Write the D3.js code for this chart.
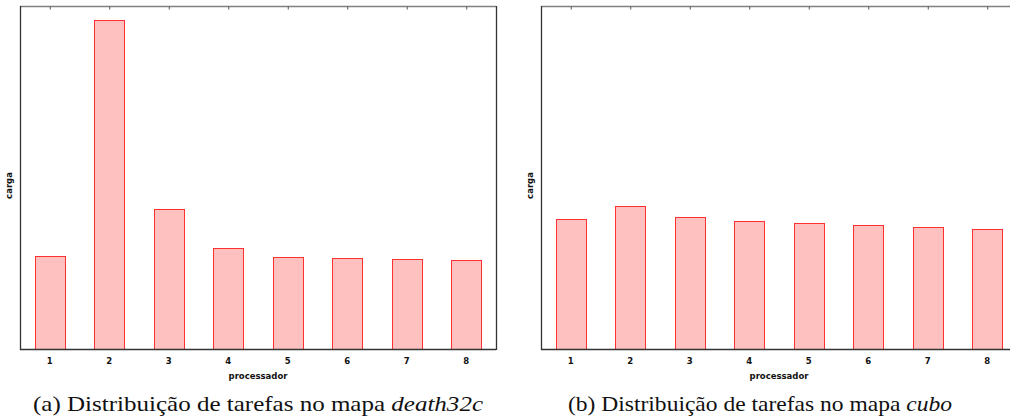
<!DOCTYPE html>
<html>
<head>
<meta charset="utf-8">
<script src="https://cdn.jsdelivr.net/npm/d3@7"></script>
<style>
  html, body { margin: 0; padding: 0; background: #fff; overflow: hidden; }
  svg { display: block; }
</style>
</head>
<body>
<svg id="chart" width="1010" height="420"></svg>
<script>
// ---- data ----
const categories = ["1", "2", "3", "4", "5", "6", "7", "8"];
const loadDeath32c = [930, 3290, 1397, 1013, 923, 910, 900, 890];
const loadCubo = [1297, 1427, 1323, 1283, 1257, 1243, 1217, 1197];
const yMax = 3430;
const xTitle = "processador";
const yTitle = "carga";
const captionA = ["(a) Distribuição de tarefas no mapa ", "death32c"];
const captionB = ["(b) Distribuição de tarefas no mapa ", "cubo"];

const svg = d3.select("#chart");
const svgWidth = 1010;

function panel(x0, values) {
  const top = 6, bottom = 349, width = 476;
  const x = d3.scaleBand().domain(categories).range([x0, x0 + width]).paddingInner(0).paddingOuter(0);
  const y = d3.scaleLinear().domain([0, yMax]).range([bottom, top]);
  const g = svg.append("g");
  const bw = x.bandwidth() * 0.505;

  // bars
  g.selectAll("rect.bar").data(values).enter().append("rect")
    .attr("class", "bar")
    .attr("x", (d, i) => Math.round(x(categories[i]) + x.bandwidth() / 2 - bw / 2) + 0.5)
    .attr("y", d => Math.round(y(d)) + 0.5)
    .attr("width", Math.round(bw))
    .attr("height", d => bottom - Math.round(y(d)))
    .attr("fill", "#ffc0c0")
    .attr("stroke", "#ff3030")
    .attr("stroke-width", 1);

  // top axis (gray frame + small ticks)
  const topAxis = d3.axisBottom(x).tickSize(3).tickFormat("");
  const ta = g.append("g").attr("transform", `translate(0,${top + 0.5})`).call(topAxis);
  ta.select(".domain").attr("stroke", "#808080").attr("stroke-width", 1.5).attr("d", `M${x0},0H${x0 + width}`);
  ta.selectAll(".tick line").attr("stroke", "#555").attr("transform", "translate(0.5,0)");

  // bottom axis
  const botAxis = d3.axisBottom(x).tickSize(0).tickPadding(8);
  const ba = g.append("g").attr("transform", `translate(0,${bottom + 0.5})`).call(botAxis);
  ba.select(".domain").attr("stroke", "#333").attr("stroke-width", 1.3).attr("d", `M${x0},0H${x0 + width}`);
  ba.selectAll(".tick text")
    .attr("font-family", "DejaVu Sans, sans-serif")
    .attr("font-weight", "bold")
    .attr("font-size", 8.5)
    .attr("fill", "#111");

  // left frame
  g.append("line").attr("x1", x0 + 0.5).attr("x2", x0 + 0.5).attr("y1", top).attr("y2", bottom + 1)
    .attr("stroke", "#333").attr("stroke-width", 1.3);
  // right frame (only if inside the picture)
  if (x0 + width < svgWidth) {
    g.append("line").attr("x1", x0 + width + 0.5).attr("x2", x0 + width + 0.5).attr("y1", top).attr("y2", bottom + 1)
      .attr("stroke", "#333").attr("stroke-width", 1.3);
  }

  // axis titles
  g.append("text")
    .attr("x", x0 + width / 2).attr("y", 379)
    .attr("text-anchor", "middle")
    .attr("font-family", "DejaVu Sans, sans-serif")
    .attr("font-weight", "bold").attr("font-size", 8.5).attr("fill", "#111")
    .text(xTitle);
  g.append("text")
    .attr("transform", `translate(${x0 - 8},${(top + bottom) / 2 + 8}) rotate(-90)`)
    .attr("text-anchor", "middle")
    .attr("font-family", "DejaVu Sans, sans-serif")
    .attr("font-weight", "bold").attr("font-size", 8.5).attr("fill", "#111")
    .text(yTitle);
}

panel(20, loadDeath32c);
panel(541, loadCubo);

function caption(x1, x2, parts) {
  const t = svg.append("text")
    .attr("x", x1).attr("y", 411)
    .attr("font-family", "Liberation Serif, serif")
    .attr("font-size", 21).attr("fill", "#111")
    .attr("textLength", x2 - x1)
    .attr("lengthAdjust", "spacingAndGlyphs");
  t.append("tspan").text(parts[0]).attr("xml:space", "preserve");
  t.append("tspan").attr("font-style", "italic").text(parts[1]);
}
caption(33, 483, captionA);
caption(568, 952, captionB);
</script>
</body>
</html>
